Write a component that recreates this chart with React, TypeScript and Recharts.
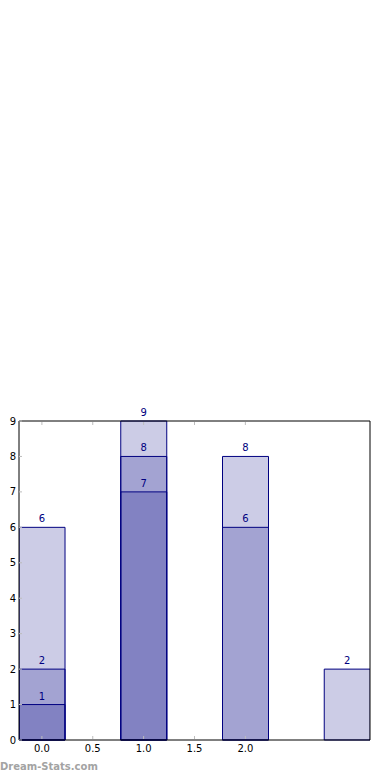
import { BarChart, Bar, XAxis, YAxis, LabelList } from "recharts";

// bar positions and the three overlapping series (drawn from 0, alpha-blended)
const positions = [0, 1, 2, 3];
const seriesA = [6, 9, 8, 2];
const seriesB: (number | null)[] = [2, 8, 6, null];
const seriesC: (number | null)[] = [1, 7, null, null];

const xTicks = [0, 0.5, 1, 1.5, 2];
const yTicks = [0, 1, 2, 3, 4, 5, 6, 7, 8, 9];

const data = positions.map((x, i) => ({
  x,
  a: seriesA[i],
  b: seriesB[i],
  c: seriesC[i],
}));

const NAVY = "#000080";
const TICK = "#bdbdbd";
const FONT = "'DejaVu Sans', sans-serif";
const X_DOMAIN: [number, number] = [-0.225, 3.225];

function BottomTick(props: any) {
  const { x, y, payload } = props;
  return (
    <g>
      <line x1={x} x2={x} y1={y - 1} y2={y - 4} stroke={TICK} strokeWidth={1} />
      <text x={x} y={y + 12} textAnchor="middle" fontSize={10} fill="#000" fontFamily={FONT}>
        {Number(payload.value).toFixed(1)}
      </text>
    </g>
  );
}

function TopTick(props: any) {
  const { x, y } = props;
  return <line x1={x} x2={x} y1={y + 1} y2={y + 4} stroke={TICK} strokeWidth={1} />;
}

function LeftTick(props: any) {
  const { x, y, payload } = props;
  return (
    <g>
      <line x1={x} x2={x + 3} y1={y} y2={y} stroke={TICK} strokeWidth={1} />
      <text x={x - 3} y={y} dy="0.36em" textAnchor="end" fontSize={10} fill="#000" fontFamily={FONT}>
        {payload.value}
      </text>
    </g>
  );
}

function RightTick(props: any) {
  const { x, y } = props;
  return <line x1={x} x2={x - 3} y1={y} y2={y} stroke={TICK} strokeWidth={1} />;
}

function ValueLabel(props: any) {
  const { x, y, width, value } = props;
  if (value == null) return null;
  return (
    <text x={x + width / 2} y={y - 5} textAnchor="middle" fontSize={10} fill={NAVY} fontFamily={FONT}>
      {value}
    </text>
  );
}

export default function App() {
  return (
    <div style={{ position: "fixed", left: 0, top: 0, width: 390, height: 780, background: "#fff" }}>
      <BarChart
        width={390}
        height={780}
        data={data}
        margin={{ top: 420, right: 19, left: 0, bottom: 39 }}
      >
        <XAxis
          xAxisId="main"
          dataKey="x"
          type="number"
          domain={X_DOMAIN}
          allowDataOverflow
          ticks={xTicks}
          interval={0}
          height={1}
          tickSize={0}
          tickMargin={0}
          tickLine={false}
          axisLine={{ stroke: "#000", strokeWidth: 1 }}
          tick={<BottomTick />}
        />
        <XAxis
          xAxisId="top"
          orientation="top"
          dataKey="x"
          type="number"
          domain={X_DOMAIN}
          allowDataOverflow
          ticks={xTicks}
          interval={0}
          height={1}
          tickSize={0}
          tickMargin={0}
          tickLine={false}
          axisLine={{ stroke: "#000", strokeWidth: 1 }}
          tick={<TopTick />}
        />
        <XAxis xAxisId="zb" dataKey="x" type="number" domain={X_DOMAIN} allowDataOverflow hide height={0} />
        <XAxis xAxisId="zc" dataKey="x" type="number" domain={X_DOMAIN} allowDataOverflow hide height={0} />
        <YAxis
          yAxisId="left"
          domain={[0, 9]}
          ticks={yTicks}
          width={19}
          tickSize={0}
          tickMargin={0}
          tickLine={false}
          axisLine={{ stroke: "#000", strokeWidth: 1 }}
          tick={<LeftTick />}
          interval={0}
        />
        <YAxis
          yAxisId="right"
          orientation="right"
          domain={[0, 9]}
          ticks={yTicks}
          width={1}
          tickSize={0}
          tickMargin={0}
          tickLine={false}
          axisLine={{ stroke: "#000", strokeWidth: 1 }}
          tick={<RightTick />}
          interval={0}
        />
        <Bar
          dataKey="a"
          xAxisId="main"
          yAxisId="left"
          barSize={46}
          fill={NAVY}
          fillOpacity={0.2}
          stroke={NAVY}
          strokeWidth={1}
          isAnimationActive={false}
        >
          <LabelList dataKey="a" content={<ValueLabel />} />
        </Bar>
        <Bar
          dataKey="b"
          xAxisId="zb"
          yAxisId="left"
          barSize={46}
          fill={NAVY}
          fillOpacity={0.2}
          stroke={NAVY}
          strokeWidth={1}
          isAnimationActive={false}
        >
          <LabelList dataKey="b" content={<ValueLabel />} />
        </Bar>
        <Bar
          dataKey="c"
          xAxisId="zc"
          yAxisId="left"
          barSize={46}
          fill={NAVY}
          fillOpacity={0.2}
          stroke={NAVY}
          strokeWidth={1}
          isAnimationActive={false}
        >
          <LabelList dataKey="c" content={<ValueLabel />} />
        </Bar>
      </BarChart>
      <div
        style={{
          position: "absolute",
          left: 0,
          top: 762,
          fontFamily: FONT,
          fontWeight: "bold",
          fontSize: 10,
          lineHeight: "10px",
          color: "#a3a3a3",
        }}
      >
        Dream-Stats.com
      </div>
    </div>
  );
}
